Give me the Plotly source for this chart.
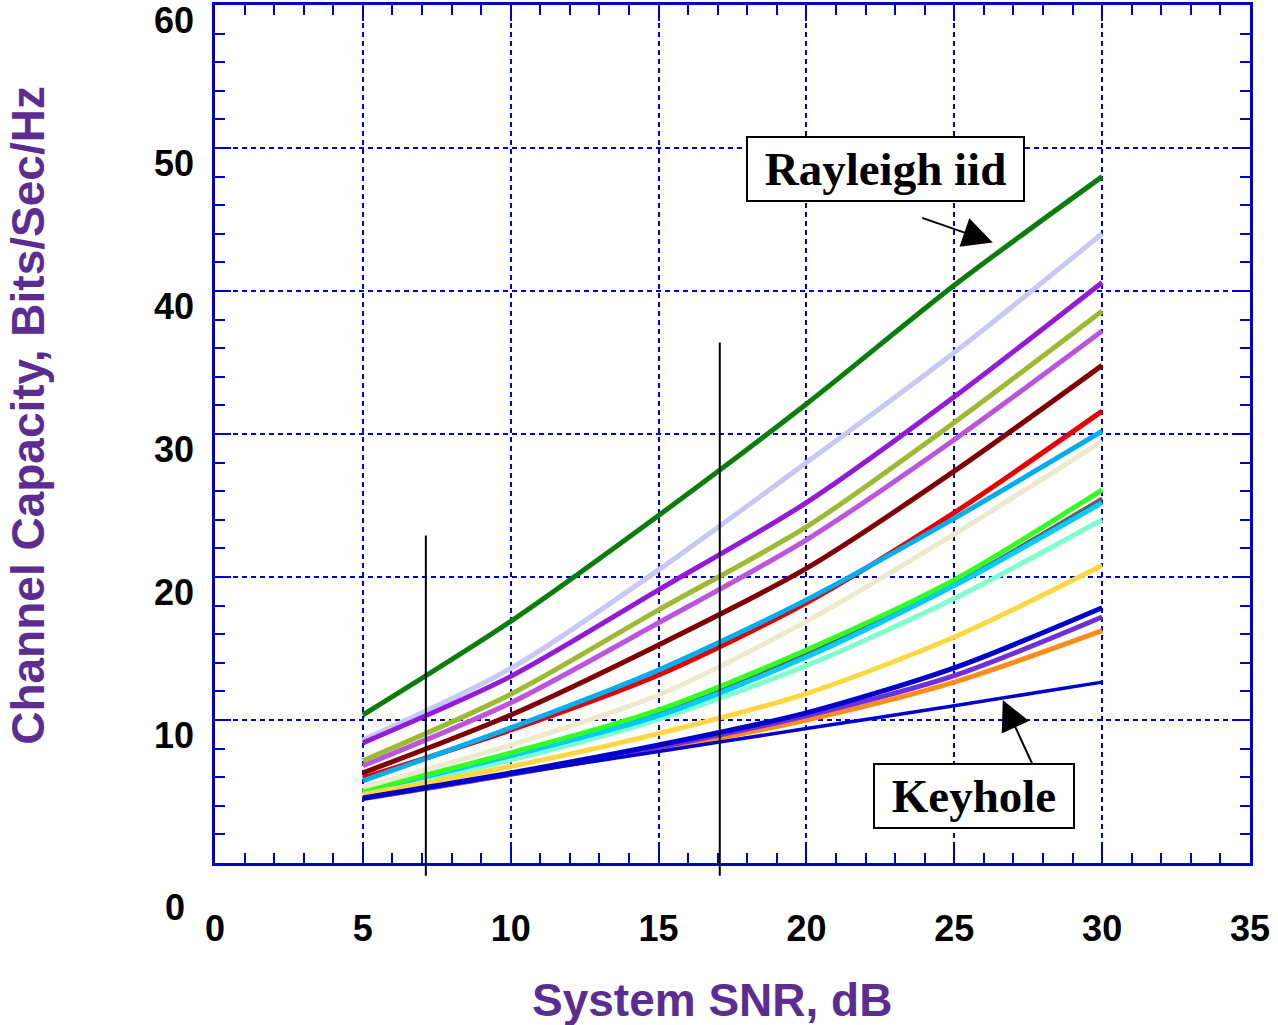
import plotly.graph_objects as go

# System SNR (dB) at which the curves were read
snr = [5, 10, 15, 20, 25, 30]

# channel capacity curves, Bits/Sec/Hz, from top to bottom
rayleigh_iid = [10.35, 16.9, 24.3, 32.1, 40.4, 48.0]
cap_lavender = [8.6, 13.6, 20.5, 28.0, 35.7, 44.0]
cap_violet = [8.4, 13.05, 19.1, 25.2, 32.6, 40.6]
cap_olive = [7.15, 11.8, 17.7, 23.5, 30.8, 38.6]
cap_orchid = [6.8, 11.2, 16.8, 22.6, 29.6, 37.2]
cap_maroon = [6.3, 10.35, 15.25, 20.6, 27.4, 34.8]
cap_red = [5.95, 9.3, 13.15, 18.2, 24.5, 31.6]
cap_skyblue = [5.75, 9.45, 13.5, 18.4, 24.1, 30.2]
cap_beige = [5.3, 8.25, 11.75, 16.9, 23.0, 29.5]
cap_green = [5.05, 7.7, 10.7, 14.9, 19.8, 26.1]
cap_gray = [5.0, 7.6, 10.5, 14.6, 19.5, 25.5]
cap_cyan = [5.0, 7.5, 10.3, 14.4, 19.4, 25.2]
cap_aqua = [4.9, 7.2, 10.05, 13.8, 18.5, 24.0]
cap_gold = [4.8, 6.75, 9.05, 11.85, 15.8, 20.8]
cap_blue = [4.55, 6.3, 8.25, 10.5, 13.65, 17.85]
cap_purple = [4.5, 6.2, 8.1, 10.3, 13.1, 17.2]
cap_orange = [4.5, 6.2, 7.95, 10.0, 12.65, 16.25]
keyhole = [4.5, 6.2, 7.8, 9.4, 11.0, 12.65]

# the two vertical marker lines (SNR, top value)
marker_snr = [7.13, 17.07]
marker_top = [22.9, 36.4]

x_ticks = [0, 5, 10, 15, 20, 25, 30, 35]
y_ticks = [10, 20, 30, 40, 50, 60]

curves = [
    (cap_gray, "#5f5f5f", 4),
    (cap_aqua, "#7fffd0", 5),
    (cap_cyan, "#00ccff", 5),
    (cap_green, "#33ff22", 5),
    (cap_beige, "#eee8cc", 5),
    (cap_red, "#e60000", 5),
    (cap_skyblue, "#00aeef", 5),
    (cap_maroon, "#800000", 5),
    (cap_orchid, "#bb55dd", 5),
    (cap_olive, "#9bbb33", 5),
    (cap_lavender, "#c8c8f4", 5),
    (cap_violet, "#9419d8", 5),
    (rayleigh_iid, "#0a7d0a", 5),
    (cap_gold, "#ffd740", 5),
    (cap_orange, "#ff8c1a", 5),
    (cap_purple, "#7030d8", 5),
    (cap_blue, "#0000cd", 5),
    (keyhole, "#0000cd", 3.5),
]

fig = go.Figure()
for vals, col, w in curves:
    fig.add_trace(go.Scatter(x=snr, y=vals, mode="lines",
                             line=dict(color=col, width=w, shape="spline", smoothing=0.8),
                             showlegend=False))

for sx, top in zip(marker_snr, marker_top):
    fig.add_shape(type="line", xref="x", yref="paper", x0=sx, x1=sx,
                  y0=-0.015, y1=top / 60, line=dict(color="black", width=2))

blue = "#0000cc"
purple = "#5c2d91"
tickfont = dict(family="Liberation Sans", size=36, color="black", weight="bold")

fig.update_xaxes(range=[0, 35], tickvals=x_ticks, ticktext=[str(v) for v in x_ticks],
                 showline=True, linecolor=blue, linewidth=2.5, mirror="allticks",
                 ticks="inside", ticklen=16, tickwidth=2, tickcolor=blue,
                 showgrid=True, gridcolor=blue, gridwidth=2, griddash="5px,4px",
                 zeroline=False, tickfont=tickfont, ticklabelstandoff=32,
                 ticklabeloverflow="allow", automargin=False,
                 minor=dict(dtick=1, ticks="inside", ticklen=10, tickwidth=2,
                            tickcolor=blue, showgrid=False))
fig.update_yaxes(range=[0, 60], tickvals=y_ticks, ticktext=[str(v) for v in y_ticks],
                 showline=True, linecolor=blue, linewidth=2.5, mirror="allticks",
                 ticks="inside", ticklen=16, tickwidth=2, tickcolor=blue,
                 showgrid=True, gridcolor=blue, gridwidth=2, griddash="5px,4px",
                 zeroline=False, tickfont=tickfont, ticklabelstandoff=11,
                 ticklabelshift=15, ticklabeloverflow="allow", automargin=False,
                 minor=dict(dtick=2, ticks="inside", ticklen=10, tickwidth=2,
                            tickcolor=blue, showgrid=False))

boxfont = dict(family="Liberation Serif", size=47, color="black", weight="bold")
titlefont = dict(family="Liberation Sans", size=46, color=purple, weight="bold")
nb = "\u00a0"

fig.update_layout(
    width=1278, height=1025,
    margin=dict(l=215, r=28, t=5, b=162, autoexpand=False),
    paper_bgcolor="white", plot_bgcolor="white",
    annotations=[
        dict(text=nb + "Rayleigh iid" + nb, x=22.67, y=48.5, xref="x", yref="y",
             showarrow=False, xanchor="center", yanchor="middle",
             font=boxfont, bgcolor="white", bordercolor="black", borderwidth=2, borderpad=5),
        dict(text="", x=26.3, y=43.4, xref="x", yref="y", ax=-72, ay=-25,
             showarrow=True, arrowhead=2, arrowsize=3, arrowwidth=2, arrowcolor="black"),
        dict(text=nb + "Keyhole" + nb, x=25.65, y=4.69, xref="x", yref="y",
             showarrow=False, xanchor="center", yanchor="middle",
             font=boxfont, bgcolor="white", bordercolor="black", borderwidth=2, borderpad=5),
        dict(text="", x=26.64, y=11.4, xref="x", yref="y", ax=30, ay=65,
             showarrow=True, arrowhead=2, arrowsize=3, arrowwidth=2, arrowcolor="black"),
        dict(text="0", x=-0.0387, y=-0.052, xref="paper", yref="paper", showarrow=False,
             xanchor="center", yanchor="middle", font=tickfont),
        dict(text="System SNR, dB", x=0.48, y=-0.16, xref="paper", yref="paper",
             xanchor="center", yanchor="middle", showarrow=False, font=titlefont),
        dict(text="Channel Capacity, Bits/Sec/Hz", x=-0.181, y=0.522, xref="paper",
             yref="paper", xanchor="center", yanchor="middle", showarrow=False,
             font=titlefont, textangle=-90),
    ],
)

# drop the browser's default page margin so the figure sits at the top-left corner
fig.write_html("out.html", config={"displayModeBar": False},
               post_script="document.body.style.margin = '0';")
